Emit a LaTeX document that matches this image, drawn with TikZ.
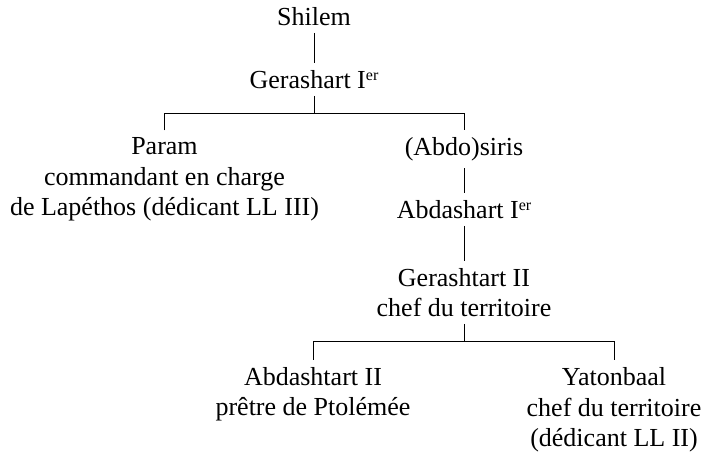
\documentclass[tikz,border=0pt]{standalone}
\usepackage{fontspec}
\setmainfont{Liberation Serif}
\usetikzlibrary{calc}
\newcommand{\ordsup}[1]{\raisebox{0.3em}{\fontsize{16}{16}\selectfont #1}}

\begin{document}
\begin{tikzpicture}[x=1pt,y=-1pt,
    person/.style={align=center,anchor=base,inner xsep=0pt,inner ysep=7pt,
      font=\fontsize{26}{30.5}\selectfont},
    link/.style={line width=0.9pt}]
  \useasboundingbox (0,0) rectangle (706,452);

  % First generations (base = last line)
  \node[person] (shilem) at (314,25.5) {Shilem};
  \node[person] (gerash) at (314,88.5) {Gerashart I\ordsup{er}};

  % Sons of Gerashart
  \node[person] (param) at (164.5,215.5) {Param\\commandant en charge\\de Lapéthos (dédicant LL III)};
  \node[person] (siris) at (464,155.5) {(Abdo)siris};
  \node[person] (abdash) at (464,218.5) {Abdashart I\ordsup{er}};
  \node[person] (gerasht) at (464,316.5) {Gerashtart II\\chef du territoire};

  % Last generation
  \node[person] (abdasht) at (313,415.5) {Abdashtart II\\prêtre de Ptolémée};
  \node[person] (yaton) at (614,446.5) {Yatonbaal\\chef du territoire\\(dédicant LL II)};

  % Junctions
  \coordinate (j1) at ($(gerash.south)!.5!(gerash.south|-param.north)$);
  \coordinate (j2) at ($(gerasht.south)!.5!(gerasht.south|-abdasht.north)$);

  % Lines
  \draw[link] (shilem.south) -- (gerash.north);
  \draw[link] (gerash.south) -- (j1);
  \draw[link] (param.north) |- (j1) -| (siris.north);
  \draw[link] (siris.south) -- (abdash.north);
  \draw[link] (abdash.south) -- (gerasht.north);
  \draw[link] (gerasht.south) -- (j2);
  \draw[link] (abdasht.north) |- (j2) -| (yaton.north);
\end{tikzpicture}
\end{document}
